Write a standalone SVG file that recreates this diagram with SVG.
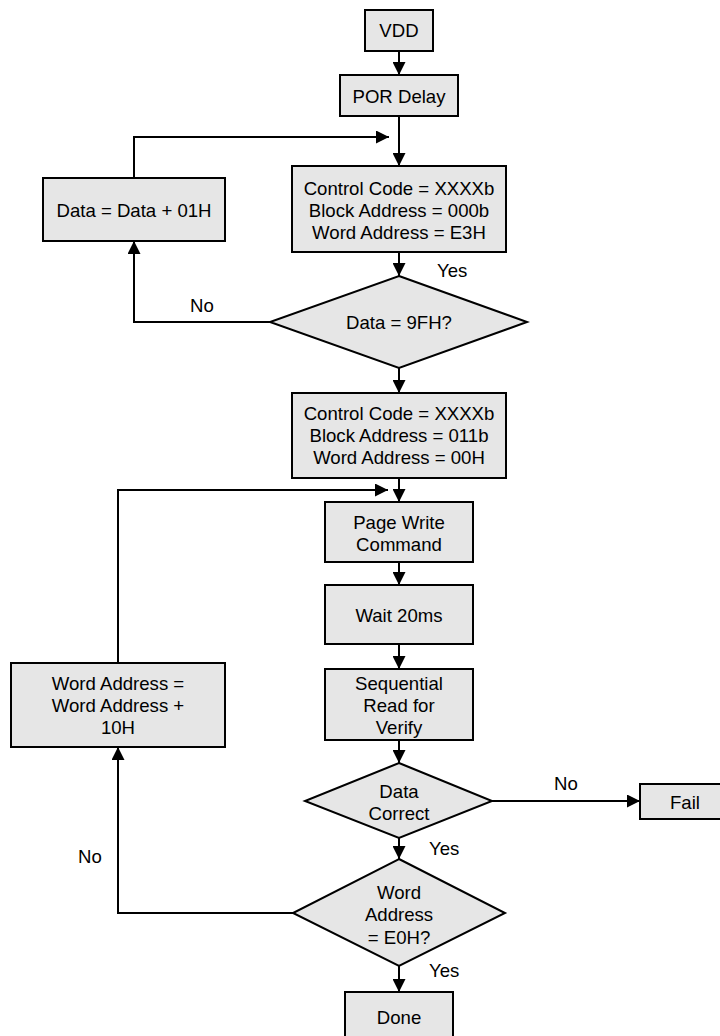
<svg xmlns="http://www.w3.org/2000/svg" width="720" height="1036" viewBox="0 0 720 1036">
<style>
.box{fill:#e6e6e6;stroke:#000;stroke-width:2}
.t{font-family:"Liberation Sans",Arial,sans-serif;font-size:18.6px;fill:#000;text-anchor:middle;dominant-baseline:central}
.l{font-family:"Liberation Sans",Arial,sans-serif;font-size:18.6px;fill:#000;dominant-baseline:central}
.c{fill:none;stroke:#000;stroke-width:2}
</style>
<defs>
<marker id="ah" markerUnits="userSpaceOnUse" markerWidth="13" markerHeight="13" refX="13" refY="6.5" orient="auto">
<path d="M0,0 L13,6.5 L0,13 z" fill="#000"/>
</marker>
</defs>
<rect width="720" height="1036" fill="#fff"/>
<g id="connectors">
<path class="c" marker-end="url(#ah)" d="M399,51 V75"/>
<path class="c" marker-end="url(#ah)" d="M399,116 V166"/>
<path class="c" marker-end="url(#ah)" d="M134,178 V137 H389"/>
<path class="c" marker-end="url(#ah)" d="M399,252 V276"/>
<path class="c" marker-end="url(#ah)" d="M270,322 H134 V241"/>
<path class="c" marker-end="url(#ah)" d="M399,368 V393"/>
<path class="c" marker-end="url(#ah)" d="M399,478 V502"/>
<path class="c" marker-end="url(#ah)" d="M118,663 V490 H388"/>
<path class="c" marker-end="url(#ah)" d="M399,562 V585"/>
<path class="c" marker-end="url(#ah)" d="M399,644 V669"/>
<path class="c" marker-end="url(#ah)" d="M399,740 V763"/>
<path class="c" marker-end="url(#ah)" d="M492,801 H640"/>
<path class="c" marker-end="url(#ah)" d="M399,838 V859"/>
<path class="c" marker-end="url(#ah)" d="M293,913 H118 V747"/>
<path class="c" marker-end="url(#ah)" d="M399,966 V992"/>
<text class="l" x="437" y="270">Yes</text>
<text class="t" x="202" y="305">No</text>
<text class="t" x="566" y="783">No</text>
<text class="l" x="429" y="848">Yes</text>
<text class="t" x="90" y="856">No</text>
<text class="l" x="429" y="970">Yes</text>
</g>
<g id="vdd"><rect class="box" x="365" y="10" width="68" height="41"/><text class="t" x="399" y="30">VDD</text></g>
<g id="por"><rect class="box" x="340" y="75" width="118" height="41"/><text class="t" x="399" y="96">POR Delay</text></g>
<g id="cc1"><rect class="box" x="292" y="166" width="214" height="86"/>
<text class="t" x="399" y="188">Control Code = XXXXb</text>
<text class="t" x="399" y="210">Block Address = 000b</text>
<text class="t" x="399" y="232">Word Address = E3H</text></g>
<g id="inc"><rect class="box" x="43" y="178" width="182" height="63"/><text class="t" x="134" y="210">Data = Data + 01H</text></g>
<g id="d1"><polygon class="box" points="399,276 527,322 399,368 270,322"/><text class="t" x="399" y="322">Data = 9FH?</text></g>
<g id="cc2"><rect class="box" x="292" y="393" width="214" height="85"/>
<text class="t" x="399" y="413">Control Code = XXXXb</text>
<text class="t" x="399" y="435">Block Address = 011b</text>
<text class="t" x="399" y="457">Word Address = 00H</text></g>
<g id="pw"><rect class="box" x="325" y="502" width="148" height="60"/>
<text class="t" x="399" y="522">Page Write</text>
<text class="t" x="399" y="544">Command</text></g>
<g id="wait"><rect class="box" x="325" y="585" width="148" height="59"/><text class="t" x="399" y="615">Wait 20ms</text></g>
<g id="seq"><rect class="box" x="325" y="669" width="148" height="71"/>
<text class="t" x="399" y="683">Sequential</text>
<text class="t" x="399" y="705">Read for</text>
<text class="t" x="399" y="727">Verify</text></g>
<g id="wainc"><rect class="box" x="11" y="663" width="214" height="84"/>
<text class="t" x="118" y="683">Word Address =</text>
<text class="t" x="118" y="705">Word Address +</text>
<text class="t" x="118" y="727">10H</text></g>
<g id="d2"><polygon class="box" points="399,763 492,801 399,838 305,801"/>
<text class="t" x="399" y="791">Data</text>
<text class="t" x="399" y="813">Correct</text></g>
<g id="fail"><rect class="box" x="640" y="784" width="92" height="35"/><text class="t" x="685" y="802">Fail</text></g>
<g id="d3"><polygon class="box" points="399,859 505,913 399,966 293,913"/>
<text class="t" x="399" y="892">Word</text>
<text class="t" x="399" y="914">Address</text>
<text class="t" x="399" y="937">= E0H?</text></g>
<g id="done"><rect class="box" x="345" y="992" width="108" height="52"/><text class="t" x="399" y="1017">Done</text></g>
</svg>
